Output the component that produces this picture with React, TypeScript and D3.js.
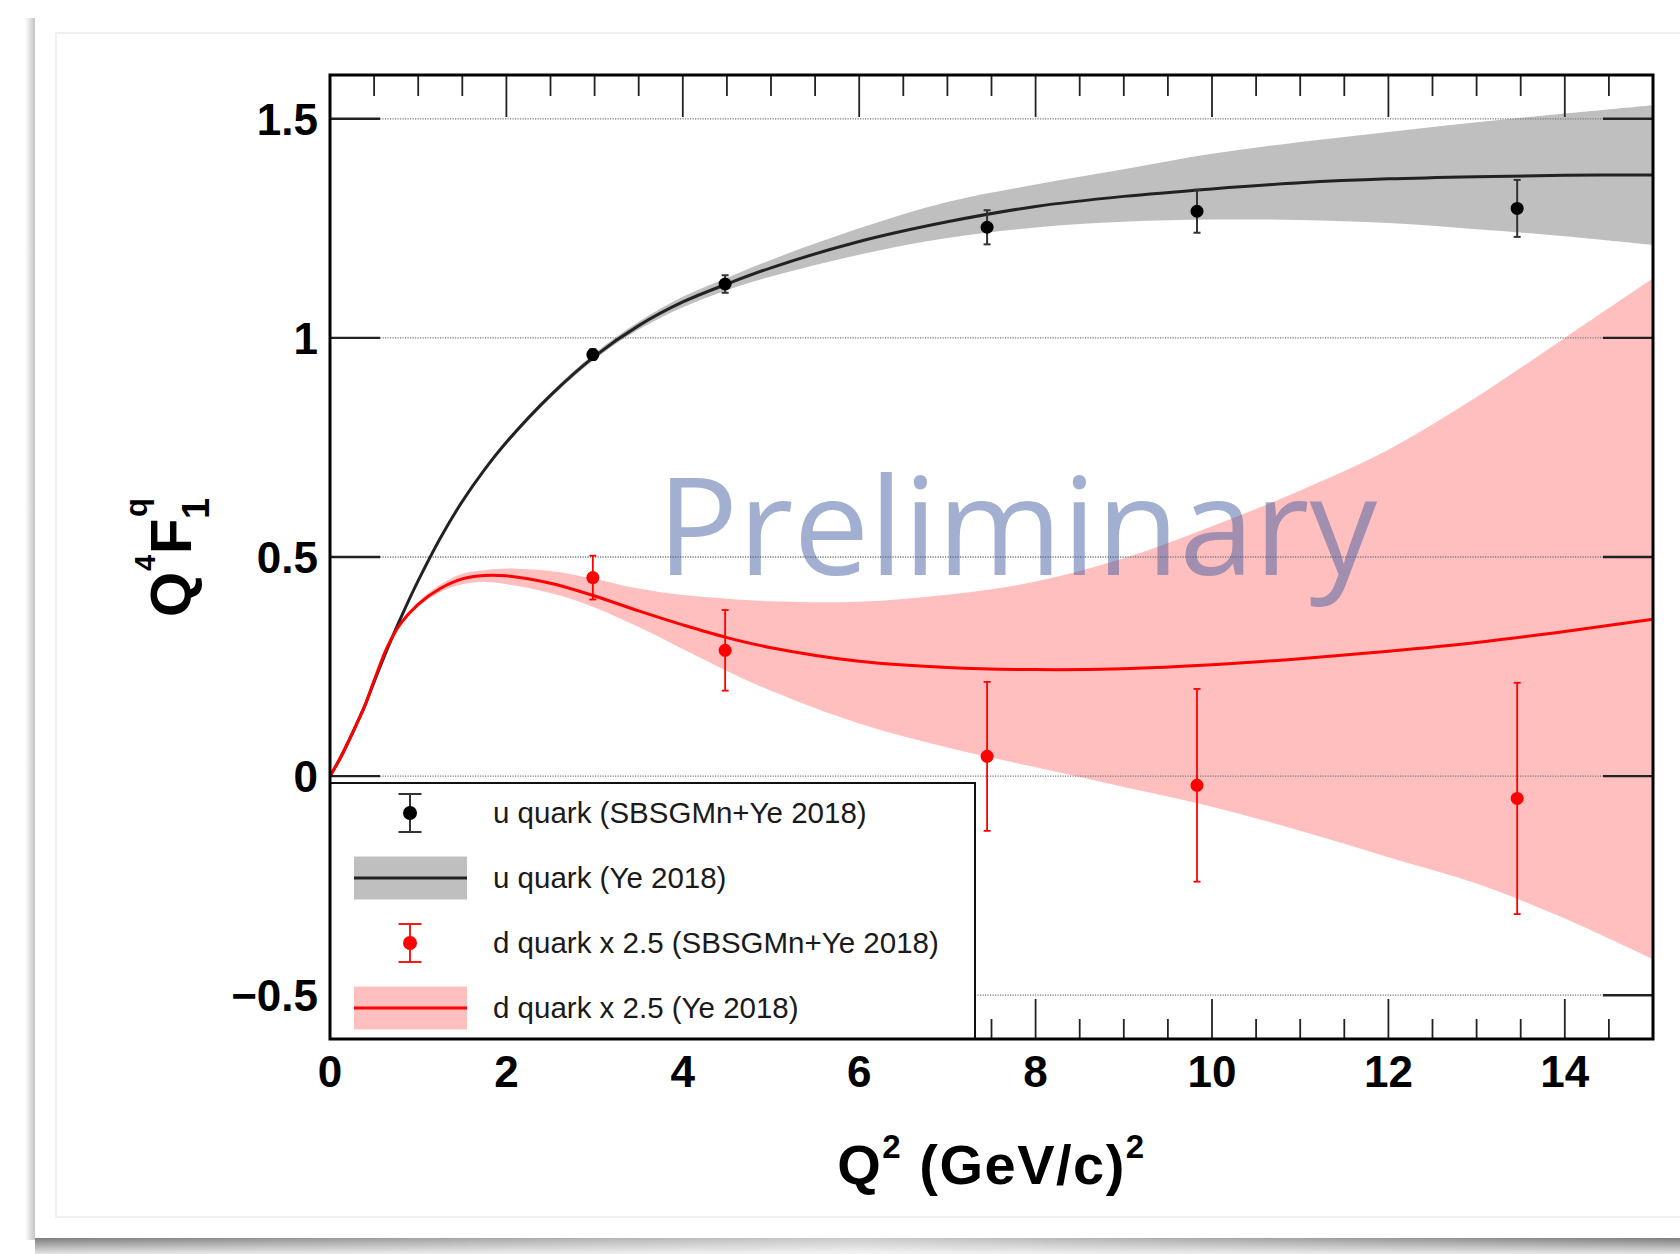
import React from "react";
import * as d3 from "d3";

const W = 1680;
const H = 1254;

// Q² grid (GeV/c)² on which the Ye 2018 parametrisations are tabulated
const q2Grid = [0, 0.1, 0.2, 0.3, 0.4, 0.5, 0.65, 0.8, 1, 1.25, 1.5, 1.75, 2, 2.5, 3, 3.5, 4, 4.5, 5, 6, 7, 8, 9, 10, 11, 12, 13, 14, 15];

// u quark Q^4 F1 (Ye 2018): central value and uncertainty band edges
const uFit = [0, 0.035, 0.075, 0.118, 0.163, 0.215, 0.29, 0.36, 0.446, 0.543, 0.627, 0.699, 0.762, 0.869, 0.958, 1.028, 1.082, 1.123, 1.16, 1.22, 1.265, 1.3, 1.323, 1.34, 1.354, 1.363, 1.368, 1.371, 1.372];
const uFitLow = [0, 0.034, 0.074, 0.117, 0.161, 0.213, 0.288, 0.358, 0.443, 0.54, 0.623, 0.695, 0.757, 0.863, 0.951, 1.019, 1.07, 1.109, 1.14, 1.19, 1.228, 1.252, 1.265, 1.27, 1.269, 1.262, 1.248, 1.232, 1.212];
const uFitHigh = [0, 0.036, 0.076, 0.119, 0.165, 0.217, 0.292, 0.362, 0.449, 0.546, 0.631, 0.703, 0.767, 0.875, 0.965, 1.037, 1.094, 1.137, 1.178, 1.25, 1.31, 1.35, 1.385, 1.42, 1.447, 1.47, 1.492, 1.512, 1.531];

// d quark Q^4 F1 x 2.5 (Ye 2018)
const dFit = [0, 0.035, 0.075, 0.118, 0.163, 0.218, 0.295, 0.348, 0.392, 0.428, 0.45, 0.458, 0.457, 0.44, 0.411, 0.377, 0.345, 0.316, 0.293, 0.262, 0.248, 0.243, 0.245, 0.254, 0.268, 0.285, 0.305, 0.33, 0.358];
const dFitLow = [0, 0.034, 0.074, 0.117, 0.161, 0.215, 0.291, 0.343, 0.386, 0.42, 0.438, 0.443, 0.438, 0.418, 0.385, 0.34, 0.29, 0.24, 0.195, 0.12, 0.065, 0.02, -0.025, -0.07, -0.125, -0.185, -0.245, -0.325, -0.418];
const dFitHigh = [0, 0.036, 0.076, 0.119, 0.165, 0.221, 0.299, 0.353, 0.398, 0.437, 0.462, 0.47, 0.474, 0.468, 0.45, 0.428, 0.413, 0.405, 0.399, 0.398, 0.414, 0.444, 0.497, 0.57, 0.652, 0.745, 0.865, 1.0, 1.136];

// SBS GMn + Ye 2018 extraction
const dataQ2 = [2.98, 4.48, 7.45, 9.83, 13.46];
const uData = [0.962, 1.123, 1.2525, 1.289, 1.2955];
const uErr = [0.012, 0.02, 0.039, 0.049, 0.065];
const dData = [0.453, 0.287, 0.045, -0.021, -0.051];
const dErr = [0.05, 0.092, 0.17, 0.22, 0.264];

// axes
const xMajor = [0, 2, 4, 6, 8, 10, 12, 14];
const xMinor = d3.range(0, 15.01, 0.5);
const yMajor = [-0.5, 0, 0.5, 1, 1.5];
const yLabels = ["\u22120.5", "0", "0.5", "1", "1.5"];

const legendLabels = [
  "u quark (SBSGMn+Ye 2018)",
  "u quark (Ye 2018)",
  "d quark x 2.5 (SBSGMn+Ye 2018)",
  "d quark x 2.5 (Ye 2018)",
];

const FONT = "'Liberation Sans', Arial, Helvetica, sans-serif";

const L = 330, R = 1653, T = 75, B = 1039;

export default function App() {
  const x = d3.scaleLinear().domain([0, 15]).range([L, R]);
  const y = d3.scaleLinear().domain([-0.6, 1.6]).range([B, T]);
  const smooth = d3.curveCatmullRom.alpha(0.5);

  const line = d3
    .line<number>()
    .x((_, i) => x(q2Grid[i]))
    .y((v) => y(v))
    .curve(smooth);

  const band = (lo: number[], hi: number[]) =>
    d3
      .area<number>()
      .x((_, i) => x(q2Grid[i]))
      .y0((_, i) => y(lo[i]))
      .y1((_, i) => y(hi[i]))
      .curve(smooth)(q2Grid) as string;

  const gray = "#bfbfbf";
  const pink = "#ffbfbf";
  const red = "#ff0000";

  const legRows = [813, 878, 943, 1008];
  const legX = 410;

  const errBar = (cx: number, cy: number, half: number, cap: number, color: string, w: number) => (
    <g stroke={color} strokeWidth={w}>
      <line x1={cx} x2={cx} y1={cy - half} y2={cy + half} />
      <line x1={cx - cap} x2={cx + cap} y1={cy - half} y2={cy - half} />
      <line x1={cx - cap} x2={cx + cap} y1={cy + half} y2={cy + half} />
    </g>
  );

  return (
    <svg width={W} height={H} style={{ display: "block", position: "absolute", left: 0, top: 0 }} fontFamily={FONT}>
      <defs>
        <clipPath id="plotArea">
          <rect x={L} y={T} width={R - L} height={B - T} />
        </clipPath>
        <linearGradient id="leftShade" x1="0" x2="1" y1="0" y2="0">
          <stop offset="0" stopColor="#ffffff" />
          <stop offset="1" stopColor="#c4c4c4" />
        </linearGradient>
        <linearGradient id="bottomShade" x1="0" x2="0" y1="0" y2="1">
          <stop offset="0" stopColor="#7d7d7d" />
          <stop offset="1" stopColor="#e6e6e6" />
        </linearGradient>
        <linearGradient id="bottomGlow" x1="0" x2="1" y1="0" y2="0">
          <stop offset="0" stopColor="#ffffff" stopOpacity="0" />
          <stop offset="0.5" stopColor="#ffffff" stopOpacity="0.6" />
          <stop offset="1" stopColor="#ffffff" stopOpacity="0" />
        </linearGradient>
      </defs>

      {/* page card */}
      <rect x={0} y={0} width={W} height={H} fill="#ffffff" />
      <rect x={25} y={18} width={10} height={1222} fill="url(#leftShade)" />
      <rect x={35} y={1238} width={W - 35} height={16} fill="url(#bottomShade)" />
      <rect x={35} y={1238} width={W - 35} height={16} fill="url(#bottomGlow)" />
      <rect x={35} y={11} width={W - 35} height={1227} fill="#ffffff" />
      <rect x={56} y={33} width={W} height={1184} fill="none" stroke="#ececec" strokeWidth={1.5} />

      {/* uncertainty bands */}
      <g clipPath="url(#plotArea)">
        <path d={band(uFitLow, uFitHigh)} fill={gray} />
        <path d={band(dFitLow, dFitHigh)} fill={pink} />
      </g>

      {/* dotted grid */}
      <g stroke="#7a7a7a" strokeWidth={1.3} strokeDasharray="1.2,1.3">
        {yMajor.map((v) => (
          <line key={v} x1={L} x2={R} y1={y(v)} y2={y(v)} />
        ))}
      </g>

      {/* watermark */}
      <text x={657} y={575} fontFamily="'Open Sans', 'Noto Sans', sans-serif" fontSize={135} fill="rgb(70,96,162)" fillOpacity={0.5}>
        Preliminary
      </text>

      {/* model curves */}
      <g clipPath="url(#plotArea)" fill="none" strokeLinejoin="round">
        <path d={line(uFit) as string} stroke="#222" strokeWidth={3} />
        <path d={line(dFit) as string} stroke={red} strokeWidth={3} />
      </g>

      {/* data points */}
      {dataQ2.map((q, i) => (
        <g key={"d" + i}>
          {errBar(x(q), y(dData[i]), y(0) - y(dErr[i]), 3.5, red, 1.8)}
          <circle cx={x(q)} cy={y(dData[i])} r={6.5} fill={red} />
        </g>
      ))}
      {dataQ2.map((q, i) => (
        <g key={"u" + i}>
          {errBar(x(q), y(uData[i]), y(0) - y(uErr[i]), 3.5, "#333", 2)}
          <circle cx={x(q)} cy={y(uData[i])} r={6.5} fill="#000" />
        </g>
      ))}

      {/* ticks */}
      <g stroke="#222" strokeWidth={1.8}>
        {xMinor.map((v) => {
          const major = Math.abs(v / 2 - Math.round(v / 2)) < 1e-6;
          return (
            <g key={"t" + v}>
              <line x1={x(v)} x2={x(v)} y1={T} y2={T + (major ? 42 : 21)} />
              <line x1={x(v)} x2={x(v)} y1={B} y2={B - (major ? 40 : 20)} />
            </g>
          );
        })}
        {yMajor.map((v) => (
          <g key={"y" + v} strokeWidth={2.4}>
            <line x1={L} x2={L + 50} y1={y(v)} y2={y(v)} />
            <line x1={R} x2={R - 50} y1={y(v)} y2={y(v)} />
          </g>
        ))}
      </g>

      {/* legend */}
      <g>
        <rect x={L} y={783} width={975 - L} height={B - 783} fill="#ffffff" stroke="#111" strokeWidth={2} />
        {errBar(legX, legRows[0], 19, 11.5, "#333", 2)}
        <circle cx={legX} cy={legRows[0]} r={7} fill="#000" />
        <rect x={354} y={legRows[1] - 21.5} width={113} height={43} fill={gray} />
        <line x1={354} x2={467} y1={legRows[1]} y2={legRows[1]} stroke="#222" strokeWidth={3} />
        {errBar(legX, legRows[2], 19, 11.5, red, 1.8)}
        <circle cx={legX} cy={legRows[2]} r={7} fill={red} />
        <rect x={354} y={legRows[3] - 21.5} width={113} height={43} fill={pink} />
        <line x1={354} x2={467} y1={legRows[3]} y2={legRows[3]} stroke={red} strokeWidth={3} />
        {legendLabels.map((t, i) => (
          <text key={t} x={493} y={legRows[i] + 10} fontSize={29.5} fill="#1a1a1a">
            {t}
          </text>
        ))}
      </g>

      {/* frame */}
      <rect x={L} y={T} width={R - L} height={B - T} fill="none" stroke="#000" strokeWidth={3} />

      {/* tick labels */}
      <g fontSize={44} fontWeight="bold" fill="#000">
        {xMajor.map((v) => (
          <text key={"xl" + v} x={x(v)} y={1087} textAnchor="middle">
            {String(v)}
          </text>
        ))}
        {yMajor.map((v, i) => (
          <text key={"yl" + v} x={318} y={y(v) + 16} textAnchor="end">
            {yLabels[i]}
          </text>
        ))}
      </g>

      {/* axis titles */}
      <text x={(L + R) / 2} y={1184} textAnchor="middle" fontSize={56} fontWeight="bold" letterSpacing={1.5} fill="#000">
        <tspan>Q</tspan>
        <tspan fontSize={33} dy={-26}>2</tspan>
        <tspan fontSize={56} dy={26}>{" (GeV/c)"}</tspan>
        <tspan fontSize={33} dy={-26}>2</tspan>
      </text>

      <g transform={`translate(191, ${(T + B) / 2}) rotate(-90)`} fontWeight="bold" fill="#000">
        <text x={-60} y={0} fontSize={58}>Q</text>
        <text x={-14} y={-36} fontSize={29}>4</text>
        <text x={3} y={0} fontSize={58}>F</text>
        <text x={40} y={-44} fontSize={31}>q</text>
        <text x={38} y={18} fontSize={38}>1</text>
      </g>
    </svg>
  );
}
